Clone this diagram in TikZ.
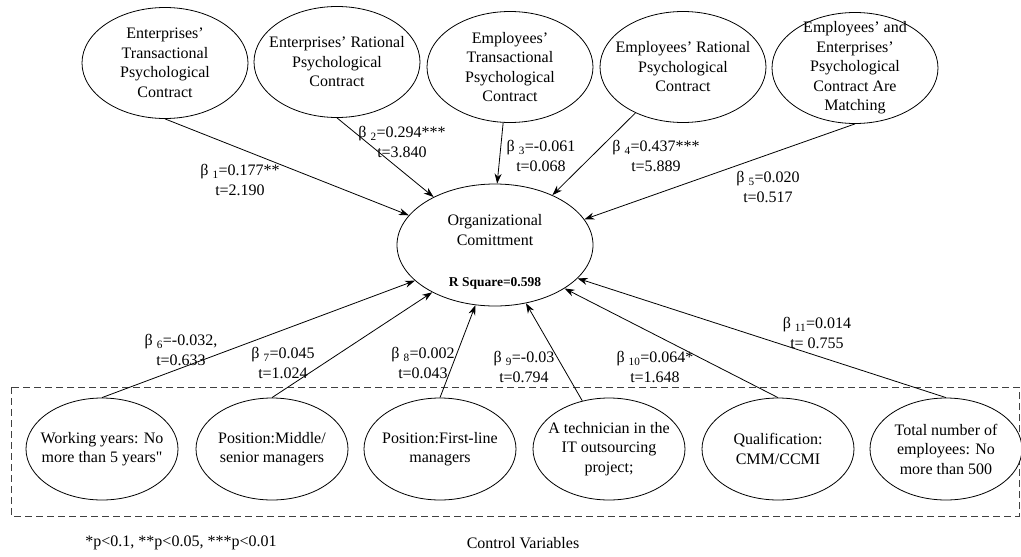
\documentclass[tikz,border=0pt]{standalone}
\usepackage{fontspec}
\setmainfont{Liberation Serif}[Ligatures=TeXOff]
\usetikzlibrary{shapes.geometric,arrows.meta}

\newcommand{\coefb}[1]{β\ \textsubscript{#1}}

\begin{document}
\begin{tikzpicture}[x=1pt,y=-1pt,
	every node/.style={font=\fontsize{16}{19.5}\selectfont},
	topell/.style={ellipse,draw,fill=white,line width=0.8pt,minimum width=166pt,minimum height=111pt,inner sep=0pt},
	botell/.style={ellipse,draw,fill=white,line width=0.8pt,minimum width=152pt,minimum height=102pt,inner sep=0pt},
	midell/.style={ellipse,draw,fill=white,line width=0.8pt,minimum width=196pt,minimum height=122pt,inner sep=0pt},
	txt/.style={align=center,inner sep=0pt},
	coef/.style={align=center,inner sep=0pt},
	link/.style={line width=0.8pt,-{Stealth[length=10pt,width=7pt]}},
	ctrlbox/.style={draw=black!75,line width=0.7pt,dash pattern=on 7pt off 4pt}]
			\useasboundingbox (0,0) rectangle (1021,557);
			%
			\draw[ctrlbox] (11,387) rectangle (1019,516);
			%
			\node[topell] (etpc) at (165,63) {};
			\node[txt] (etpc-t) at (etpc) {Enterprises’\\Transactional\\Psychological\\Contract};
			\node[topell] (erpc) at (337,62) {};
			\node[txt] (erpc-t) at (erpc) {Enterprises’ Rational\\Psychological\\Contract};
			\node[topell] (eetpc) at (510,67) {};
			\node[txt] (eetpc-t) at (eetpc) {Employees’\\Transactional\\Psychological\\Contract};
			\node[topell] (eerpc) at (683,67) {};
			\node[txt] (eerpc-t) at (eerpc) {Employees’ Rational\\Psychological\\Contract};
			\node[topell] (match) at (855,68) {};
			\node[txt] (match-t) at (match) {Employees’ and\\Enterprises’\\Psychological\\Contract Are\\Matching};
			%
			\node[midell] (oc) at (495,245) {};
			\node[txt] (oc-t) at (495,230) {Organizational\\Comittment};
			\node[txt,font=\fontsize{13.5}{15}\selectfont\bfseries] (oc-r) at (495,283) {R Square=0.598};
			%
			\node[botell] (wy) at (102,449) {};
			\node[txt] (wy-t) at (wy) {Working years: No\\more than 5 years"};
			\node[botell] (pm) at (272,449) {};
			\node[txt] (pm-t) at (pm) {Position:Middle/\\senior managers};
			\node[botell] (pf) at (440,449) {};
			\node[txt] (pf-t) at (pf) {Position:First-line\\managers};
			\node[botell] (tech) at (609,449) {};
			\node[txt] (tech-t) at (tech) {A technician in the\\IT outsourcing\\project;};
			\node[botell] (qual) at (778,449) {};
			\node[txt] (qual-t) at (qual) {Qualification:\\CMM/CCMI};
			\node[botell] (tot) at (946,449) {};
			\node[txt] (tot-t) at (tot) {Total number of\\employees: No\\more than 500};
			%
			\draw[link] (etpc.south) -- (oc.161);
			\draw[link] (erpc.south) -- (oc.142);
			\draw[link] (eetpc.263) -- (oc.88);
			\draw[link] (eerpc.224) -- (oc.41);
			\draw[link] (match.south) -- (oc.16);
			\draw[link] (wy.north) -- (oc.204);
			\draw[link] (pm.north) -- (oc.217);
			\draw[link] (pf.north) -- (oc.252);
			\draw[link] (tech.119) -- (oc.298);
			\draw[link] (qual.north) -- (oc.328);
			\draw[link] (tot.north) -- (oc.338);
			%
			\node[coef] (b1) at (240,180) {\coefb{1}=0.177**\\t=2.190};
			\node[coef] (b2) at (402,142) {\coefb{2}=0.294***\\t=3.840};
			\node[coef] (b3) at (541,156) {\coefb{3}=-0.061\\t=0.068};
			\node[coef] (b4) at (656,156) {\coefb{4}=0.437***\\t=5.889};
			\node[coef] (b5) at (768,187) {\coefb{5}=0.020\\t=0.517};
			\node[coef] (b6) at (181,350) {\coefb{6}=-0.032,\\t=0.633};
			\node[coef] (b7) at (283,363) {\coefb{7}=0.045\\t=1.024};
			\node[coef] (b8) at (423,363) {\coefb{8}=0.002\\t=0.043};
			\node[coef] (b9) at (524,367) {\coefb{9}=-0.03\\t=0.794};
			\node[coef] (b10) at (655,367) {\coefb{10}=0.064*\\t=1.648};
			\node[coef] (b11) at (817,333) {\coefb{11}=0.014\\t= 0.755};
			%
			\node (sig) at (181,543) {*p<0.1, **p<0.05, ***p<0.01};
			\node (ctrl) at (523,543) {Control Variables};
			%
		\end{tikzpicture}
\end{document}
